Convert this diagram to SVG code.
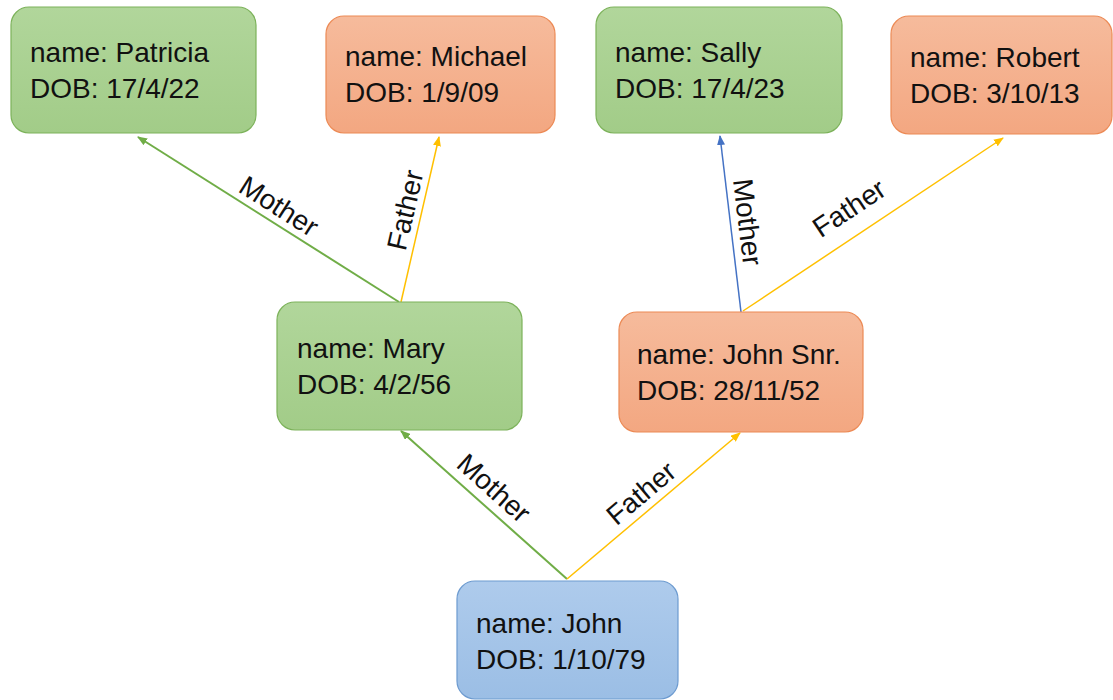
<svg xmlns="http://www.w3.org/2000/svg" width="1113" height="700" viewBox="0 0 1113 700">
<style>
.node text{font-family:"Liberation Sans",Arial,sans-serif;font-size:28px;fill:#111}
.g rect{fill:url(#gg);stroke:#7cb25a;stroke-width:1.2}
.o rect{fill:url(#go);stroke:#ec8a55;stroke-width:1.2}
.b rect{fill:url(#gb);stroke:#6d9bd0;stroke-width:1.2}
.lbl{font-family:"Liberation Sans",Arial,sans-serif;font-size:28px;fill:#111;text-anchor:middle}
.cg{stroke:#70ad47;stroke-width:2;fill:none}
.cy{stroke:#ffc000;stroke-width:1.5;fill:none}
.cb{stroke:#4472c4;stroke-width:1.5;fill:none}
</style>
<defs>
<linearGradient id="gg" x1="0" y1="0" x2="0" y2="1"><stop offset="0" stop-color="#b1d69b"/><stop offset="1" stop-color="#a2cc88"/></linearGradient>
<linearGradient id="go" x1="0" y1="0" x2="0" y2="1"><stop offset="0" stop-color="#f6bb9c"/><stop offset="1" stop-color="#f3a781"/></linearGradient>
<linearGradient id="gb" x1="0" y1="0" x2="0" y2="1"><stop offset="0" stop-color="#aecbec"/><stop offset="1" stop-color="#9bbee5"/></linearGradient>
<marker id="ag" markerWidth="10" markerHeight="8" refX="9" refY="4" orient="auto" markerUnits="userSpaceOnUse"><path d="M0,0 L10,4 L0,8 Z" fill="#70ad47"/></marker>
<marker id="ay" markerWidth="10" markerHeight="8" refX="9" refY="4" orient="auto" markerUnits="userSpaceOnUse"><path d="M0,0 L10,4 L0,8 Z" fill="#ffc000"/></marker>
<marker id="ab" markerWidth="10" markerHeight="8" refX="9" refY="4" orient="auto" markerUnits="userSpaceOnUse"><path d="M0,0 L10,4 L0,8 Z" fill="#4472c4"/></marker>
</defs>
<rect width="1113" height="700" fill="#fff"/>
<g id="connectors">
<line class="cg" x1="567" y1="579" x2="401" y2="431" marker-end="url(#ag)"/>
<line class="cy" x1="567" y1="579" x2="740" y2="433" marker-end="url(#ay)"/>
<line class="cg" x1="399" y1="302" x2="138" y2="137" marker-end="url(#ag)"/>
<line class="cy" x1="401" y1="302" x2="439" y2="137" marker-end="url(#ay)"/>
<line class="cb" x1="741" y1="312" x2="720" y2="136" marker-end="url(#ab)"/>
<line class="cy" x1="743" y1="311" x2="1003" y2="138" marker-end="url(#ay)"/>
<text class="lbl" transform="translate(494,488) rotate(41.7)" dy="0.35em">Mother</text>
<text class="lbl" transform="translate(641,493) rotate(-40.2)" dy="0.35em">Father</text>
<text class="lbl" transform="translate(279,206) rotate(32.4)" dy="0.35em">Mother</text>
<text class="lbl" transform="translate(405,210) rotate(-77)" dy="0.35em">Father</text>
<text class="lbl" transform="translate(748,222) rotate(83.2)" dy="0.35em">Mother</text>
<text class="lbl" transform="translate(849,208) rotate(-33.6)" dy="0.35em">Father</text>
</g>
<g id="patricia" class="node g"><rect x="11" y="7" width="245" height="126" rx="18"/><text x="30" y="62">name: Patricia</text><text x="30" y="98">DOB: 17/4/22</text></g>
<g id="michael" class="node o"><rect x="326" y="16" width="229" height="117" rx="18"/><text x="345" y="66">name: Michael</text><text x="345" y="102">DOB: 1/9/09</text></g>
<g id="sally" class="node g"><rect x="596" y="7" width="246" height="126" rx="18"/><text x="615" y="62">name: Sally</text><text x="615" y="98">DOB: 17/4/23</text></g>
<g id="robert" class="node o"><rect x="891" y="16" width="221" height="118" rx="18"/><text x="910" y="67">name: Robert</text><text x="910" y="103">DOB: 3/10/13</text></g>
<g id="mary" class="node g"><rect x="277" y="302" width="245" height="128" rx="18"/><text x="297" y="358">name: Mary</text><text x="297" y="394">DOB: 4/2/56</text></g>
<g id="johnsnr" class="node o"><rect x="619" y="312" width="244" height="120" rx="18"/><text x="637" y="364">name: John Snr.</text><text x="637" y="400">DOB: 28/11/52</text></g>
<g id="john" class="node b"><rect x="457" y="581" width="221" height="118" rx="18"/><text x="476" y="633">name: John</text><text x="476" y="669">DOB: 1/10/79</text></g>
</svg>
